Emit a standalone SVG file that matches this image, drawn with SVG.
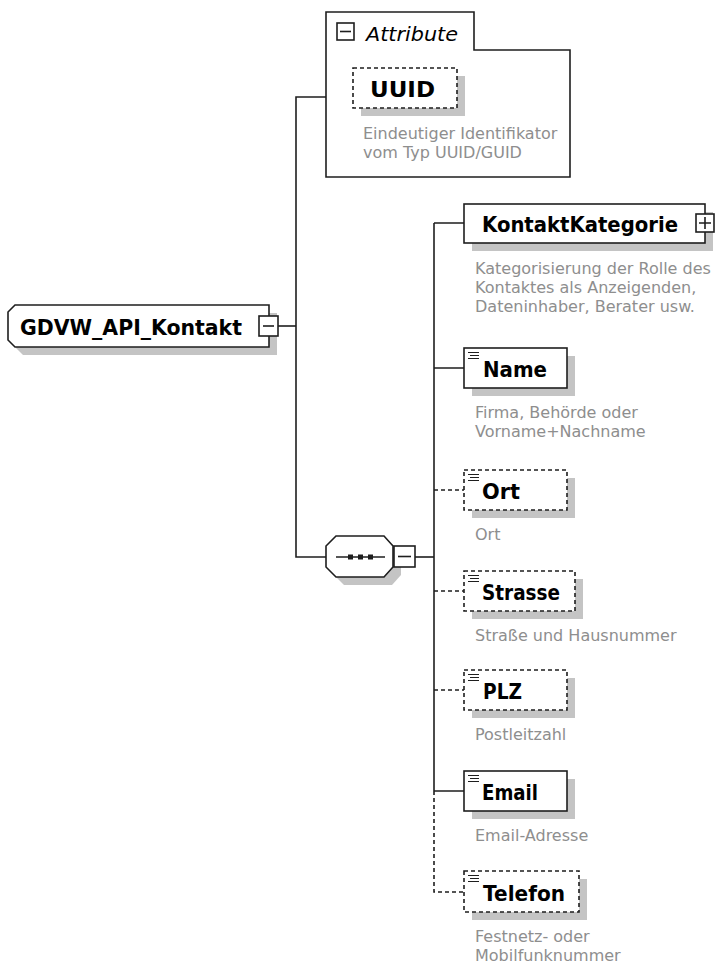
<svg xmlns="http://www.w3.org/2000/svg" width="715" height="978" viewBox="0 0 715 978">
<defs>
<style>
.box{fill:#fff;stroke:#1e1e1e;stroke-width:1.6}
.dash{stroke-dasharray:4 3}
.shadow{fill:#c4c4c4;stroke:none}
.name{font-family:"DejaVu Sans",Verdana,sans-serif;font-weight:bold;font-size:22px;fill:#000}
.desc{font-family:"DejaVu Sans",Verdana,sans-serif;font-size:16px;fill:#8e8e8e}
.conn{fill:none;stroke:#1e1e1e;stroke-width:1.6}
.ico{fill:none;stroke:#1e1e1e;stroke-width:1.2}
</style>
<g id="simple-icon">
<path class="ico" d="M4,4.5H15M6,7.5H15M4,10.5H15"/>
</g>
</defs>
<rect width="715" height="978" fill="#fff"/>

<g id="connectors">
<path class="conn" d="M278,326H296"/>
<path class="conn" d="M326,97H296V557H326"/>
<path class="conn" d="M415,557H434"/>
<path class="conn" d="M434,223V791"/>
<path class="conn dash" d="M434,791V892H464"/>
<path class="conn" d="M434,223H464M434,368H464M434,791H464"/>
<path class="conn dash" d="M434,490H464M434,591H464M434,690H464"/>
</g>

<g id="node-root">
<path class="shadow" d="M23,313H277V355H23L16,348V320Z"/>
<path class="box" d="M15,305H269V347H15L8,340V312Z"/>
<rect class="box" x="259" y="316" width="19" height="20"/>
<path class="conn" d="M263,326H274"/>
<text class="name" x="20" y="335" textLength="222" lengthAdjust="spacingAndGlyphs">GDVW_API_Kontakt</text>
</g>

<g id="node-attributes">
<path class="box" d="M326,12H474V50H570V177H326Z"/>
<rect class="box" x="337" y="23" width="17" height="17"/>
<path class="conn" d="M340,31.5H351"/>
<text x="366" y="41" font-family="DejaVu Sans,Verdana,sans-serif" font-style="italic" font-size="20" fill="#000" textLength="92" lengthAdjust="spacingAndGlyphs">Attribute</text>
</g>

<g id="node-uuid">
<rect class="shadow" x="361" y="76" width="104" height="40"/>
<rect class="box dash" x="353" y="68" width="104" height="40"/>
<text class="name" x="370" y="97" textLength="65" lengthAdjust="spacingAndGlyphs">UUID</text>
<text class="desc" x="363" y="139">Eindeutiger Identifikator</text>
<text class="desc" x="363" y="158">vom Typ UUID/GUID</text>
</g>

<g id="node-sequence">
<path class="shadow" d="M344,544H392L401,554V575L392,585H344L334,575V554Z"/>
<path class="box" d="M336,536H384L393,546V567L384,577H336L326,567V546Z"/>
<path class="conn" d="M336,557H385"/>
<rect x="348" y="554.5" width="5" height="5" fill="#1e1e1e"/>
<rect x="358" y="554.5" width="5" height="5" fill="#1e1e1e"/>
<rect x="368" y="554.5" width="5" height="5" fill="#1e1e1e"/>
<rect class="box" x="394" y="546" width="21" height="21"/>
<path class="conn" d="M398,556.5H411"/>
</g>

<g id="node-kontaktkategorie">
<rect class="shadow" x="472" y="212" width="241" height="39"/>
<rect class="box" x="464" y="204" width="241" height="39"/>
<rect class="box" x="696" y="214" width="18" height="18"/>
<path class="conn" d="M699,223H711M705,217V229"/>
<text class="name" x="482" y="232" textLength="196" lengthAdjust="spacingAndGlyphs">KontaktKategorie</text>
<text class="desc" x="475" y="274">Kategorisierung der Rolle des</text>
<text class="desc" x="475" y="293">Kontaktes als Anzeigenden,</text>
<text class="desc" x="475" y="312">Dateninhaber, Berater usw.</text>
</g>

<g id="node-name">
<rect class="shadow" x="472" y="356" width="103" height="40"/>
<rect class="box" x="464" y="348" width="103" height="40"/>
<use href="#simple-icon" x="464" y="348"/>
<text class="name" x="483" y="377" textLength="64" lengthAdjust="spacingAndGlyphs">Name</text>
<text class="desc" x="475" y="418">Firma, Behörde oder</text>
<text class="desc" x="475" y="437">Vorname+Nachname</text>
</g>

<g id="node-ort">
<rect class="shadow" x="472" y="478" width="103" height="40"/>
<rect class="box dash" x="464" y="470" width="103" height="40"/>
<use href="#simple-icon" x="464" y="470"/>
<text class="name" x="482" y="499" textLength="38" lengthAdjust="spacingAndGlyphs">Ort</text>
<text class="desc" x="475" y="540">Ort</text>
</g>

<g id="node-strasse">
<rect class="shadow" x="472" y="579" width="111" height="40"/>
<rect class="box dash" x="464" y="571" width="111" height="40"/>
<use href="#simple-icon" x="464" y="571"/>
<text class="name" x="482" y="600" textLength="78" lengthAdjust="spacingAndGlyphs">Strasse</text>
<text class="desc" x="475" y="641">Straße und Hausnummer</text>
</g>

<g id="node-plz">
<rect class="shadow" x="472" y="678" width="103" height="40"/>
<rect class="box dash" x="464" y="670" width="103" height="40"/>
<use href="#simple-icon" x="464" y="670"/>
<text class="name" x="483" y="699" textLength="39" lengthAdjust="spacingAndGlyphs">PLZ</text>
<text class="desc" x="475" y="740">Postleitzahl</text>
</g>

<g id="node-email">
<rect class="shadow" x="472" y="779" width="103" height="40"/>
<rect class="box" x="464" y="771" width="103" height="40"/>
<use href="#simple-icon" x="464" y="771"/>
<text class="name" x="482" y="800" textLength="56" lengthAdjust="spacingAndGlyphs">Email</text>
<text class="desc" x="475" y="841">Email-Adresse</text>
</g>

<g id="node-telefon">
<rect class="shadow" x="472" y="879" width="115" height="41"/>
<rect class="box dash" x="464" y="871" width="115" height="41"/>
<use href="#simple-icon" x="464" y="871"/>
<text class="name" x="483" y="901" textLength="82" lengthAdjust="spacingAndGlyphs">Telefon</text>
<text class="desc" x="475" y="942">Festnetz- oder</text>
<text class="desc" x="475" y="961">Mobilfunknummer</text>
</g>
</svg>
